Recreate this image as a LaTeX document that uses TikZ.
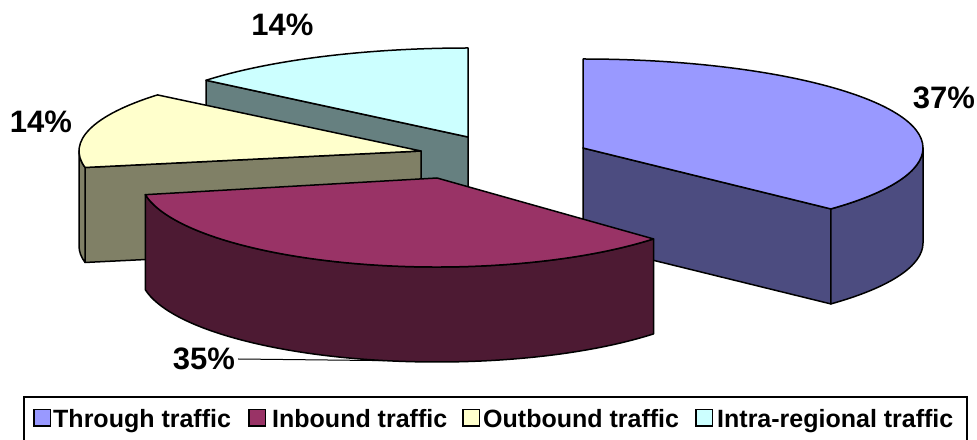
\documentclass[tikz,border=0pt]{standalone}
\usepackage{fontspec}
\setmainfont{Liberation Sans}
\usepackage{tikz}
\usetikzlibrary{calc}
\usepackage{xcolor}
\definecolor{throughtop}{RGB}{153,153,255}
\definecolor{throughside}{RGB}{76,76,128}
\definecolor{inboundtop}{RGB}{153,51,102}
\definecolor{inboundside}{RGB}{77,26,51}
\definecolor{outboundtop}{RGB}{255,255,204}
\definecolor{outboundside}{RGB}{128,128,102}
\definecolor{intratop}{RGB}{204,255,255}
\definecolor{intraside}{RGB}{102,128,128}

\begin{document}
\begin{tikzpicture}[x=1pt,y=1pt,
		edge/.style={draw=black,line width=1.5pt,line join=round},
		pct/.style={font=\fontsize{31}{36}\selectfont\bfseries,inner sep=3pt},
		keybox/.style={draw=black,line width=1.5pt,minimum width=16.5pt,minimum height=16.5pt,inner sep=0pt},
		keytext/.style={font=\fontsize{25}{30}\selectfont\bfseries,inner sep=0pt,anchor=base west}]
	\useasboundingbox (0,0) rectangle (977,439);
	
	% Intra-regional slice, at the back
	\begin{scope}[shift={(468,302)}]
		\draw[edge,fill=intraside] (0,0) -- (140.4:340pt and 89pt) -- ++(0,-95) -- (0,-95) -- cycle;
		\draw[edge,fill=intratop] (0,0) -- (140.4:340pt and 89pt)
			arc[start angle=140.4,end angle=90,x radius=340pt,y radius=89pt] -- cycle;
	\end{scope}
	
	% Outbound slice
	\begin{scope}[shift={(421,288)}]
		\draw[edge,fill=outboundside] (0,0) -- (190.8:342pt and 88pt) -- ++(0,-95) -- (0,-95) -- cycle;
		\draw[edge,fill=outboundside] (180:342pt and 88pt)
			arc[start angle=180,end angle=190.8,x radius=342pt,y radius=88pt] -- ++(0,-95)
			arc[start angle=190.8,end angle=180,x radius=342pt,y radius=88pt] -- cycle;
		\draw[edge,fill=outboundtop] (0,0) -- (140.4:342pt and 88pt)
			arc[start angle=140.4,end angle=190.8,x radius=342pt,y radius=88pt] -- cycle;
	\end{scope}
	
	% Through slice
	\begin{scope}[shift={(583,291)}]
		\draw[edge,fill=throughside] (0,0) -- (-43.2:340pt and 89pt) -- ++(0,-95) -- (0,-95) -- cycle;
		\draw[edge,fill=throughside] (0:340pt and 89pt)
			arc[start angle=0,end angle=-43.2,x radius=340pt,y radius=89pt] -- ++(0,-95)
			arc[start angle=-43.2,end angle=0,x radius=340pt,y radius=89pt] -- cycle;
		\draw[edge,fill=throughtop] (0,0) -- (90:340pt and 89pt)
			arc[start angle=90,end angle=-43.2,x radius=340pt,y radius=89pt] -- cycle;
	\end{scope}
	
	% Inbound slice, in front
	\begin{scope}[shift={(437,261)}]
		\draw[edge,fill=inboundside] (190.8:297pt and 89pt)
			arc[start angle=190.8,end angle=316.8,x radius=297pt,y radius=89pt] -- ++(0,-95)
			arc[start angle=316.8,end angle=190.8,x radius=297pt,y radius=89pt] -- cycle;
		\draw[edge,fill=inboundtop] (0,0) -- (190.8:297pt and 89pt)
			arc[start angle=190.8,end angle=316.8,x radius=297pt,y radius=89pt] -- cycle;
		\coordinate (inbound-foot) at ($(260:297pt and 89pt)+(0,-95)$);
	\end{scope}
	
	% Percent labels
	\node[pct] (through-pct) at (944,341.5) {37\%};
	\node[pct] (intra-pct) at (282.5,414) {14\%};
	\node[pct] (outbound-pct) at (41,317.5) {14\%};
	\node[pct] (inbound-pct) at (204,80) {35\%};
	\draw[line width=1pt] (inbound-pct.east) -- (inbound-foot);
	
	% Legend
	\draw[line width=1.5pt] (24,-5) rectangle (967,42);
	\foreach \bx/\tx/\col/\txt [count=\i] in {33/53/throughtop/Through traffic,
			248/272/inboundtop/Inbound traffic,
			462/483/outboundtop/Outbound traffic,
			695/717/intratop/Intra-regional traffic} {
		\node[keybox,fill=\col] (key-\i) at (\bx+9,21) {};
		\node[keytext] (keytext-\i) at (\tx,12) {\txt};
	}
\end{tikzpicture}
\end{document}
